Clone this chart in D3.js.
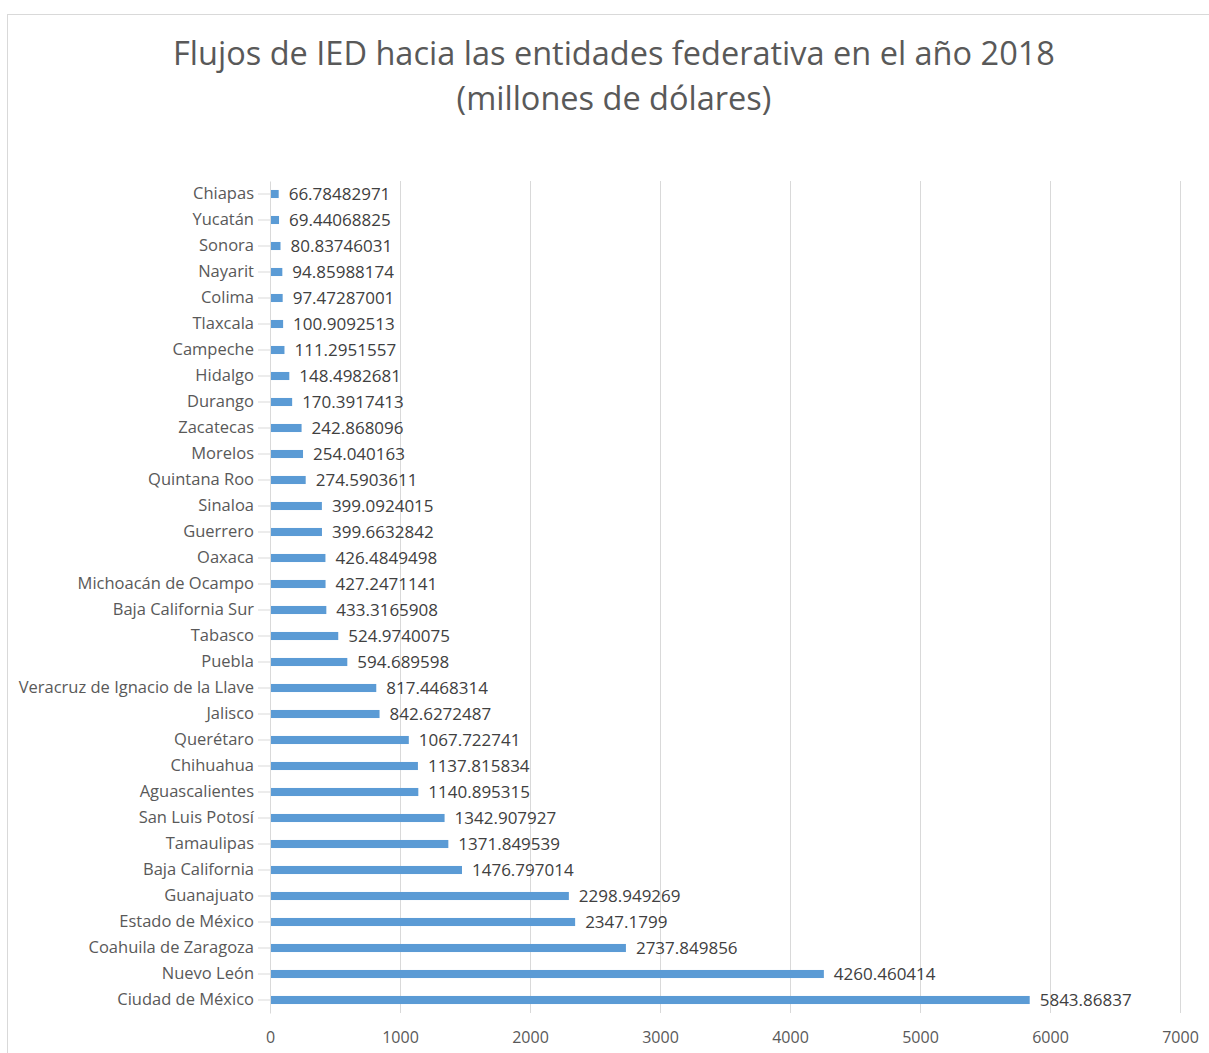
<!DOCTYPE html>
<meta charset="utf-8">
<script src="https://d3js.org/d3.v7.min.js"></script>
<style>
  body { margin: 0; background: #fff; }
  text { font-family: "Open Sans", sans-serif; }
</style>
<body>
<div id="chart"></div>
<script>

// states, top to bottom as in the chart
var states = ["Chiapas", "Yucatán", "Sonora", "Nayarit", "Colima", "Tlaxcala", "Campeche",
  "Hidalgo", "Durango", "Zacatecas", "Morelos", "Quintana Roo", "Sinaloa", "Guerrero", "Oaxaca",
  "Michoacán de Ocampo", "Baja California Sur", "Tabasco", "Puebla",
  "Veracruz de Ignacio de la Llave", "Jalisco", "Querétaro", "Chihuahua", "Aguascalientes",
  "San Luis Potosí", "Tamaulipas", "Baja California", "Guanajuato", "Estado de México",
  "Coahuila de Zaragoza", "Nuevo León", "Ciudad de México"];

var values = [66.78482971, 69.44068825, 80.83746031, 94.85988174, 97.47287001, 100.9092513,
  111.2951557, 148.4982681, 170.3917413, 242.868096, 254.040163, 274.5903611, 399.0924015,
  399.6632842, 426.4849498, 427.2471141, 433.3165908, 524.9740075, 594.689598, 817.4468314,
  842.6272487, 1067.722741, 1137.815834, 1140.895315, 1342.907927, 1371.849539, 1476.797014,
  2298.949269, 2347.1799, 2737.849856, 4260.460414, 5843.86837];

var labels = ["66.78482971", "69.44068825", "80.83746031", "94.85988174", "97.47287001",
  "100.9092513", "111.2951557", "148.4982681", "170.3917413", "242.868096", "254.040163",
  "274.5903611", "399.0924015", "399.6632842", "426.4849498", "427.2471141", "433.3165908",
  "524.9740075", "594.689598", "817.4468314", "842.6272487", "1067.722741", "1137.815834",
  "1140.895315", "1342.907927", "1371.849539", "1476.797014", "2298.949269", "2347.1799",
  "2737.849856", "4260.460414", "5843.86837"];

var xTicks = [0, 1000, 2000, 3000, 4000, 5000, 6000, 7000];

var W = 1209, H = 1053;
var margin = {top: 181, right: 29, bottom: 40, left: 270};
var height = 832;

var svg = d3.select("#chart").append("svg")
  .attr("width", W).attr("height", H);

// chart border
svg.append("rect")
  .attr("x", 7.5).attr("y", 14.5)
  .attr("width", W).attr("height", H)
  .attr("fill", "none").attr("stroke", "#d9d9d9");

// title
svg.append("text")
  .attr("x", 614).attr("y", 65)
  .attr("text-anchor", "middle")
  .attr("font-size", 32.5).attr("fill", "#595959")
  .text("Flujos de IED hacia las entidades federativa en el año 2018");
svg.append("text")
  .attr("x", 614).attr("y", 110)
  .attr("text-anchor", "middle")
  .attr("font-size", 32.5).attr("fill", "#595959")
  .text("(millones de dólares)");

var g = svg.append("g")
  .attr("transform", "translate(" + margin.left + "," + margin.top + ")");

var x = d3.scaleLinear().domain([0, 7000]).range([0, 910]);
var y = d3.scaleBand().domain(states).range([0, height]).paddingInner(0.69).paddingOuter(0.345);

// gridlines
g.selectAll(".grid").data(xTicks.slice(1)).enter().append("line")
  .attr("x1", function(d) { return x(d) + 0.5; })
  .attr("x2", function(d) { return x(d) + 0.5; })
  .attr("y1", 0).attr("y2", height)
  .attr("stroke", "#d9d9d9").attr("stroke-width", 1);

// x axis labels
var xAxis = g.append("g")
  .attr("transform", "translate(0," + height + ")")
  .call(d3.axisBottom(x).tickValues(xTicks).tickFormat(d3.format("d")).tickSize(0).tickPadding(19));
xAxis.select(".domain").remove();
xAxis.selectAll("text").attr("font-size", 16).attr("fill", "#595959")
  .attr("font-family", "Open Sans, sans-serif");

// bars
g.selectAll(".bar").data(values).enter().append("rect")
  .attr("x", x(0))
  .attr("y", function(d, i) { return y(states[i]); })
  .attr("width", function(d) { return x(d) - x(0); })
  .attr("height", y.bandwidth())
  .attr("fill", "#5b9bd5");

// y axis
var yAxis = g.append("g")
  .call(d3.axisLeft(d3.scaleBand().domain(states).range([0, height]))
    .tickSize(12).tickPadding(4).tickSizeOuter(0));
yAxis.select(".domain").attr("stroke", "#d9d9d9");
yAxis.selectAll(".tick line").attr("stroke", "#d9d9d9");
yAxis.selectAll("text").attr("font-size", 16.5).attr("fill", "#595959")
  .attr("font-family", "Open Sans, sans-serif");

// value labels
g.selectAll(".lbl").data(values).enter().append("text")
  .attr("x", function(d) { return x(d) + 10; })
  .attr("y", function(d, i) { return y(states[i]) + y.bandwidth() / 2; })
  .attr("dy", "0.35em")
  .attr("font-size", 17).attr("fill", "#404040")
  .text(function(d, i) { return labels[i]; });

</script>
</body>
